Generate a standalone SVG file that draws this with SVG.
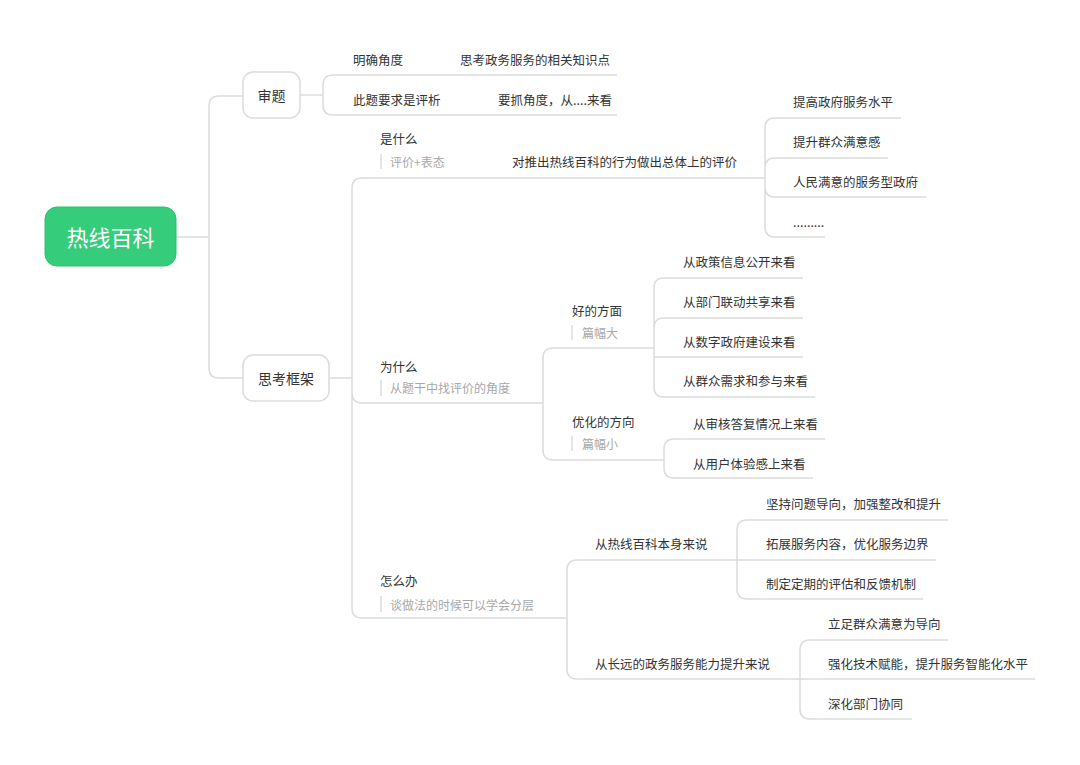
<svg xmlns="http://www.w3.org/2000/svg" width="1080" height="765" viewBox="0 0 1080 765">
<style>
text{font-family:"Noto Sans CJK SC","Noto Sans",sans-serif;dominant-baseline:central}
.t{font-size:12.5px;fill:#333}
.n{font-size:12px;fill:#a8a8a8}
.box{fill:#fff;stroke:#dcdcdc;stroke-width:1.5}
.c path,.c line{fill:none;stroke:#dcdcdc;stroke-width:1.5}
.bar{stroke:#dcdcdc;stroke-width:1.5}
</style>
<rect width="1080" height="765" fill="#fff"/>
<g class="c" id="connectors">
<path d="M176,237 H209 M209,237 V106 Q209,96 219,96 H243 M209,237 V368 Q209,378 219,378 H243"/>
<path d="M300,95 H323 M323,95 V85 Q323,75 333,75 H617 M323,95 V105 Q323,115 333,115 H617"/>
<path d="M329,378 H352 M352,378 V188 Q352,178 362,178 H765 M352,378 V393 Q352,403 362,403 H543 M352,378 V608 Q352,618 362,618 H567"/>
<path d="M765,178 V128 Q765,118 775,118 H901 M765,178 V168 Q765,158 775,158 H888 M765,178 V187 Q765,197 775,197 H926 M765,178 V227 Q765,237 775,237 H825"/>
<path d="M543,403 V358 Q543,348 553,348 H654 M543,403 V450 Q543,460 553,460 H664"/>
<path d="M654,348 V288 Q654,278 664,278 H803 M654,348 V328 Q654,318 664,318 H803 M654,348 V357 H803 M654,357 V387 Q654,397 664,397 H815"/>
<path d="M664,460 V449 Q664,439 674,439 H825 M664,460 V468 Q664,478 674,478 H813"/>
<path d="M567,618 V570 Q567,560 577,560 H737 M567,618 V669 Q567,679 577,679 H800"/>
<path d="M737,560 V530 Q737,520 747,520 H948 M737,560 H936 M737,560 V589 Q737,599 747,599 H923"/>
<path d="M800,679 V650 Q800,640 810,640 H948 M800,679 H1035 M800,679 V709 Q800,719 810,719 H912"/>
</g>
<g id="root">
<rect x="45" y="207" width="131" height="59" rx="12" fill="#35cc7b" stroke="#2fc070" stroke-width="1"/>
<text x="110.5" y="236" font-size="22" fill="#fff" text-anchor="middle">热线百科</text>
</g>
<g id="shenti">
<rect class="box" x="243" y="72" width="57" height="46" rx="10"/>
<text class="t" x="271.5" y="95" font-size="14" style="font-size:14px" text-anchor="middle">审题</text>
</g>
<g id="kuangjia">
<rect class="box" x="243" y="355" width="86" height="46" rx="10"/>
<text class="t" x="286" y="378" style="font-size:14px" text-anchor="middle">思考框架</text>
</g>
<g id="n-mingque"><text class="t" x="353" y="59">明确角度</text></g>
<g id="n-sikao"><text class="t" x="460" y="59">思考政务服务的相关知识点</text></g>
<g id="n-citi"><text class="t" x="353" y="99">此题要求是评析</text></g>
<g id="n-yaozhua"><text class="t" x="498" y="99">要抓角度，从....来看</text></g>
<g id="n-shishenme">
<text class="t" x="380" y="138">是什么</text>
<line class="bar" x1="381" y1="154" x2="381" y2="169"/>
<text class="n" x="390" y="161">评价+表态</text>
</g>
<g id="n-duituichu"><text class="t" x="512" y="161">对推出热线百科的行为做出总体上的评价</text></g>
<g id="n-tigao"><text class="t" x="793" y="101">提高政府服务水平</text></g>
<g id="n-tisheng"><text class="t" x="793" y="141">提升群众满意感</text></g>
<g id="n-renmin"><text class="t" x="793" y="181">人民满意的服务型政府</text></g>
<g id="n-dots"><text class="t" x="793" y="221">.........</text></g>
<g id="n-weishenme">
<text class="t" x="380" y="366">为什么</text>
<line class="bar" x1="381" y1="380" x2="381" y2="396"/>
<text class="n" x="390" y="387">从题干中找评价的角度</text>
</g>
<g id="n-haode">
<text class="t" x="572" y="310">好的方面</text>
<line class="bar" x1="572" y1="325" x2="572" y2="340"/>
<text class="n" x="582" y="332">篇幅大</text>
</g>
<g id="n-zhengce"><text class="t" x="683" y="261">从政策信息公开来看</text></g>
<g id="n-bumen"><text class="t" x="683" y="301">从部门联动共享来看</text></g>
<g id="n-shuzi"><text class="t" x="683" y="341">从数字政府建设来看</text></g>
<g id="n-qunzhong"><text class="t" x="683" y="380">从群众需求和参与来看</text></g>
<g id="n-youhua">
<text class="t" x="572" y="421">优化的方向</text>
<line class="bar" x1="572" y1="436" x2="572" y2="451"/>
<text class="n" x="582" y="443">篇幅小</text>
</g>
<g id="n-shenhe"><text class="t" x="693" y="423">从审核答复情况上来看</text></g>
<g id="n-yonghu"><text class="t" x="693" y="463">从用户体验感上来看</text></g>
<g id="n-zenmeban">
<text class="t" x="380" y="580">怎么办</text>
<line class="bar" x1="381" y1="596" x2="381" y2="612"/>
<text class="n" x="390" y="604">谈做法的时候可以学会分层</text>
</g>
<g id="n-benshen"><text class="t" x="595" y="543">从热线百科本身来说</text></g>
<g id="n-jianchi"><text class="t" x="766" y="503">坚持问题导向，加强整改和提升</text></g>
<g id="n-tuozhan"><text class="t" x="766" y="543">拓展服务内容，优化服务边界</text></g>
<g id="n-zhiding"><text class="t" x="766" y="583">制定定期的评估和反馈机制</text></g>
<g id="n-changyuan"><text class="t" x="595" y="663">从长远的政务服务能力提升来说</text></g>
<g id="n-lizu"><text class="t" x="828" y="623">立足群众满意为导向</text></g>
<g id="n-qianghua"><text class="t" x="828" y="663">强化技术赋能，提升服务智能化水平</text></g>
<g id="n-shenhua"><text class="t" x="828" y="703">深化部门协同</text></g>
</svg>
